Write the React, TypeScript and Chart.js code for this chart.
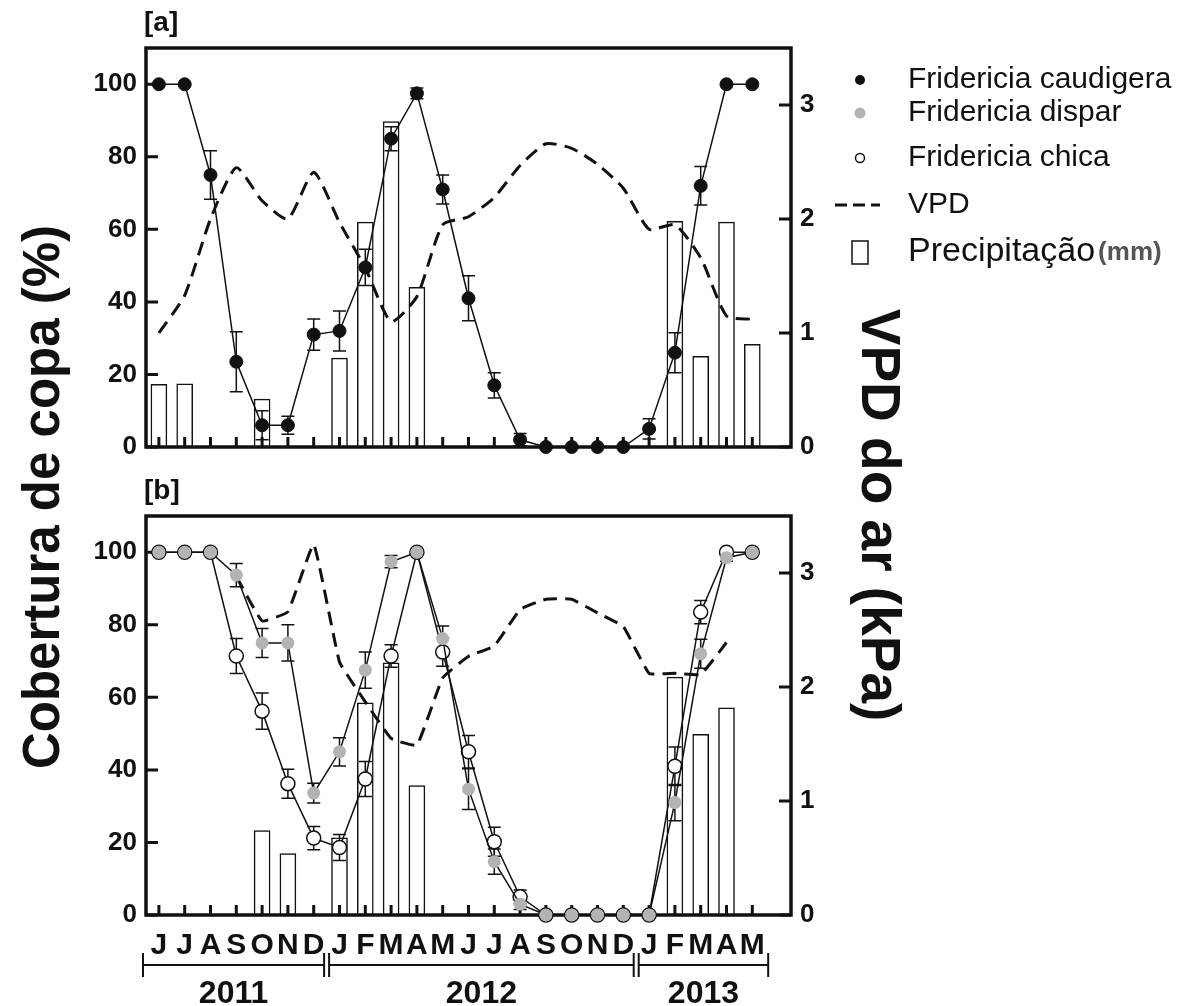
import { useEffect, useRef } from 'react';
import { Chart, registerables } from 'chart.js';

Chart.register(...registerables);

const FONT = '"Liberation Sans", Arial, Helvetica, sans-serif';

// ---- categories ----
const MONTHS = ['J', 'J', 'A', 'S', 'O', 'N', 'D', 'J', 'F', 'M', 'A', 'M', 'J', 'J', 'A', 'S', 'O', 'N', 'D', 'J', 'F', 'M', 'A', 'M'];
const X_LABELS = [...MONTHS, ''];
const YEARS = [
  { label: '2011', from: 0, to: 6 },
  { label: '2012', from: 7, to: 18 },
  { label: '2013', from: 19, to: 23 },
];
const LEFT_TICKS = [0, 20, 40, 60, 80, 100];
const RIGHT_TICKS = [0, 1, 2, 3];

// ---- panel [a] ----
const caudigera = [100, 100, 75, 23.5, 6, 6, 31, 32, 49.5, 85, 97.5, 71, 41, 17, 2, 0, 0, 0, 0, 5, 26, 72, 100, 100];
const caudigeraErr = [0, 0, 6.7, 8.3, 4, 2.5, 4.3, 5.5, 5, 3.3, 1.5, 4, 6.2, 3.5, 1.7, 0, 0, 0, 0, 2.8, 5.5, 5.3, 0, 0];
const vpdA = [1.0, 1.33, 2.0, 2.45, 2.16, 2.0, 2.41, 1.97, 1.57, 1.1, 1.32, 1.95, 2.02, 2.19, 2.47, 2.66, 2.62, 2.48, 2.27, 1.91, 1.95, 1.66, 1.15, 1.12];
const rainA = [17.3, 17.4, null, null, 13.2, null, null, 24.5, 62, 89.7, 44, null, null, null, null, null, null, null, null, null, 62.2, 25, 62, 28.3];

// ---- panel [b] ----
const dispar = [100, 100, 100, 93.7, 75, 75, 33.6, 45, 67.5, 97.4, 100, 76.2, 34.7, 14.7, 3, 0, 0, 0, 0, 0, 31, 72, 98.5, 100];
const disparErr = [0, 0, 0, 3.2, 4, 5, 2.7, 3.9, 5, 1.7, 0, 3.5, 5.6, 3.5, 1.5, 0, 0, 0, 0, 0, 5, 4, 1, 0];
const chica = [100, 100, 100, 71.4, 56.2, 36.2, 21.2, 18.6, 37.5, 71.4, 100, 72.5, 45, 20.2, 5, 0, 0, 0, 0, 0, 41, 83.5, 100, 100];
const chicaErr = [0, 0, 0, 4.8, 5, 4, 3.2, 3.6, 4.8, 3.1, 0, 3.9, 4.5, 4, 1.9, 0, 0, 0, 0, 0, 5.3, 3.2, 0, 0];
const vpdB = [null, null, null, 2.97, 2.58, 2.66, 3.25, 2.22, 1.87, 1.55, 1.49, 2.08, 2.27, 2.36, 2.68, 2.77, 2.77, 2.65, 2.53, 2.12, 2.12, 2.11, 2.39, null];
const rainB = [null, null, null, null, 23.3, 16.9, null, 21.3, 58.5, 69.5, 35.7, null, null, null, null, null, null, null, null, null, 65.6, 49.8, 57.1, null];

const INK = '#111';
const GREY = '#b3b3b3';

type ErrSet = { data: (number | null)[]; err: number[] };

function scalesFor(isBottom: boolean, xHeight: number) {
  return {
    x: {
      type: 'category',
      labels: X_LABELS,
      offset: true,
      grid: { display: false, drawTicks: false },
      border: { display: false },
      ticks: {
        display: isBottom,
        autoSkip: false,
        maxRotation: 0,
        minRotation: 0,
        padding: 13,
        color: INK,
        font: { family: FONT, size: 30, weight: 'bold' },
      },
      afterFit: (s: any) => { s.height = xHeight; },
    },
    y: {
      type: 'linear',
      position: 'left',
      min: 0,
      max: 110,
      afterBuildTicks: (s: any) => { s.ticks = LEFT_TICKS.map((v) => ({ value: v })); },
      grid: { display: false, drawTicks: false },
      border: { display: false },
      ticks: { color: INK, padding: 9, font: { family: FONT, size: 26, weight: 'bold' } },
      afterFit: (s: any) => { s.width = 146; },
    },
    y2: {
      type: 'linear',
      position: 'right',
      min: 0,
      max: 3.5,
      afterBuildTicks: (s: any) => { s.ticks = RIGHT_TICKS.map((v) => ({ value: v })); },
      grid: { display: false, drawTicks: false },
      border: { display: false },
      ticks: { color: INK, padding: 9, font: { family: FONT, size: 26, weight: 'bold' } },
      afterFit: (s: any) => { s.width = 1186 - 791; },
    },
  };
}

function decorPlugin(errSets: ErrSet[], label: string, extra: (chart: any) => void) {
  return {
    id: 'panelDecor',
    afterDatasetDraw(chart: any, args: any) {
      if (args.meta.type !== 'bar') return;
      const { ctx, chartArea: a, scales } = chart;
      const x = scales.x, y = scales.y, y2 = scales.y2;
      ctx.save();
      ctx.strokeStyle = INK;
      ctx.lineWidth = 3.5;
      ctx.strokeRect(a.left, a.top, a.right - a.left, a.bottom - a.top);
      ctx.lineWidth = 3;
      ctx.beginPath();
      MONTHS.forEach((_, i) => {
        const px = x.getPixelForValue(i);
        ctx.moveTo(px, a.bottom);
        ctx.lineTo(px, a.bottom - 10);
      });
      LEFT_TICKS.forEach((v) => {
        const py = y.getPixelForValue(v);
        ctx.moveTo(a.left, py);
        ctx.lineTo(a.left + 12, py);
      });
      RIGHT_TICKS.forEach((v) => {
        const py = y2.getPixelForValue(v);
        ctx.moveTo(a.right, py);
        ctx.lineTo(a.right - 12, py);
      });
      ctx.stroke();
      ctx.lineWidth = 1.5;
      errSets.forEach((s) => {
        s.data.forEach((v, i) => {
          const e = s.err[i];
          if (v == null || !e) return;
          const px = x.getPixelForValue(i);
          const hi = y.getPixelForValue(Math.min(v + e, 110));
          const lo = y.getPixelForValue(Math.max(v - e, 0));
          ctx.beginPath();
          ctx.moveTo(px, hi); ctx.lineTo(px, lo);
          ctx.moveTo(px - 6.5, hi); ctx.lineTo(px + 6.5, hi);
          ctx.moveTo(px - 6.5, lo); ctx.lineTo(px + 6.5, lo);
          ctx.stroke();
        });
      });
      ctx.restore();
    },
    afterDraw(chart: any) {
      const { ctx, chartArea: a } = chart;
      ctx.save();
      ctx.fillStyle = INK;
      ctx.font = `bold 28px ${FONT}`;
      ctx.textAlign = 'left';
      ctx.textBaseline = 'middle';
      ctx.fillText(label, a.left - 2, a.top - 25);
      ctx.restore();
      extra(chart);
    },
  };
}

function drawTitlesAndLegend(chart: any) {
  const { ctx } = chart;
  ctx.save();
  ctx.fillStyle = INK;
  ctx.textAlign = 'center';
  ctx.textBaseline = 'middle';
  ctx.font = `bold 51px ${FONT}`;
  ctx.save();
  ctx.translate(45, 497);
  ctx.rotate(-Math.PI / 2);
  ctx.fillText('Cobertura de copa (%)', 0, 0);
  ctx.restore();
  ctx.font = `bold 55px ${FONT}`;
  ctx.save();
  ctx.translate(877, 515);
  ctx.rotate(Math.PI / 2);
  ctx.fillText('VPD do ar (kPa)', 0, 0);
  ctx.restore();

  // legend
  const mx = 860;
  const tx = 908;
  ctx.fillStyle = INK;
  ctx.beginPath(); ctx.arc(mx, 80, 5, 0, Math.PI * 2); ctx.fill();
  ctx.fillStyle = GREY;
  ctx.beginPath(); ctx.arc(mx, 113, 5.5, 0, Math.PI * 2); ctx.fill();
  ctx.strokeStyle = INK;
  ctx.lineWidth = 1.5;
  ctx.beginPath(); ctx.arc(mx, 158, 4.5, 0, Math.PI * 2); ctx.stroke();
  ctx.lineWidth = 3;
  ctx.setLineDash([12, 6]);
  ctx.beginPath(); ctx.moveTo(835, 205); ctx.lineTo(880, 205); ctx.stroke();
  ctx.setLineDash([]);
  ctx.lineWidth = 1.5;
  ctx.strokeRect(852, 241, 16, 23);

  ctx.fillStyle = INK;
  ctx.textAlign = 'left';
  ctx.font = `30px ${FONT}`;
  ctx.fillText('Fridericia caudigera', tx, 80);
  ctx.fillText('Fridericia dispar', tx, 113);
  ctx.fillText('Fridericia chica', tx, 158);
  ctx.fillText('VPD', tx, 205);
  ctx.font = `34px ${FONT}`;
  ctx.fillText('Precipitação', tx, 252);
  const w = ctx.measureText('Precipitação').width;
  ctx.font = `bold 26px ${FONT}`;
  ctx.fillStyle = '#555';
  ctx.fillText('(mm)', tx + w + 3, 253);
  ctx.restore();
}

function drawYears(chart: any) {
  const { ctx, scales } = chart;
  const x = scales.x;
  const half = (x.getPixelForValue(1) - x.getPixelForValue(0)) / 2;
  const yb = 495;
  ctx.save();
  ctx.strokeStyle = INK;
  ctx.fillStyle = INK;
  ctx.lineWidth = 2;
  ctx.font = `bold 32px ${FONT}`;
  ctx.textAlign = 'center';
  ctx.textBaseline = 'alphabetic';
  YEARS.forEach((yr, k) => {
    const l = x.getPixelForValue(yr.from) - half + (k === 0 ? -3 : 2.5);
    const r = x.getPixelForValue(yr.to) + half + (k === YEARS.length - 1 ? 3 : -2.5);
    ctx.beginPath();
    ctx.moveTo(l, yb); ctx.lineTo(r, yb);
    ctx.moveTo(l, yb - 12); ctx.lineTo(l, yb + 12);
    ctx.moveTo(r, yb - 12); ctx.lineTo(r, yb + 12);
    ctx.stroke();
    ctx.fillText(yr.label, (l + r) / 2, 533);
  });
  ctx.restore();
}

function lineSeries(label: string, data: (number | null)[], fill: string, border: string, radius: number, bw: number, order: number) {
  return {
    type: 'line',
    label,
    data,
    yAxisID: 'y',
    borderColor: INK,
    borderWidth: 1.5,
    pointRadius: radius,
    pointHoverRadius: radius,
    pointBackgroundColor: fill,
    pointBorderColor: border,
    pointBorderWidth: bw,
    tension: 0,
    clip: false,
    order,
  };
}

function vpdSeries(data: (number | null)[], tension: number) {
  return {
    type: 'line',
    label: 'VPD',
    data,
    yAxisID: 'y2',
    borderColor: INK,
    borderWidth: 3,
    borderDash: [14, 8],
    pointRadius: 0,
    tension,
    order: 5,
  };
}

function rainSeries(data: (number | null)[]) {
  return {
    type: 'bar',
    label: 'Precipitação (mm)',
    data,
    yAxisID: 'y',
    backgroundColor: '#fff',
    borderColor: INK,
    borderWidth: 1.5,
    barThickness: 16,
    order: 10,
  };
}

function baseOptions(isBottom: boolean, xHeight: number, padTop: number) {
  return {
    responsive: false,
    animation: false,
    devicePixelRatio: 1,
    layout: { padding: { top: padTop, left: 0, right: 0, bottom: 0 } },
    plugins: { legend: { display: false }, tooltip: { enabled: false } },
    events: [],
    scales: scalesFor(isBottom, xHeight),
  };
}

export default function App() {
  const refA = useRef<HTMLCanvasElement>(null);
  const refB = useRef<HTMLCanvasElement>(null);

  useEffect(() => {
    const ca = new Chart(refA.current as HTMLCanvasElement, {
      type: 'line',
      data: {
        labels: X_LABELS,
        datasets: [
          lineSeries('Fridericia caudigera', caudigera, INK, INK, 6.5, 1, 1),
          vpdSeries(vpdA, 0.2),
          rainSeries(rainA),
        ] as any,
      },
      options: baseOptions(false, 1006 - 447, 48) as any,
      plugins: [decorPlugin([{ data: caudigera, err: caudigeraErr }], '[a]', drawTitlesAndLegend)],
    });
    const cb = new Chart(refB.current as HTMLCanvasElement, {
      type: 'line',
      data: {
        labels: X_LABELS,
        datasets: [
          lineSeries('Fridericia dispar', dispar, GREY, GREY, 6.5, 0, 2),
          lineSeries('Fridericia chica', chica, '#fff', INK, 7, 1.5, 3),
          vpdSeries(vpdB, 0.1),
          rainSeries(rainB),
        ] as any,
      },
      options: baseOptions(true, 536 - 445, 46) as any,
      plugins: [decorPlugin([{ data: chica, err: chicaErr }, { data: dispar, err: disparErr }], '[b]', drawYears)],
    });
    return () => {
      ca.destroy();
      cb.destroy();
    };
  }, []);

  return (
    <div style={{ position: 'absolute', left: 0, top: 0, width: 1186, height: 1006, background: '#fff', overflow: 'hidden' }}>
      <canvas ref={refA} width={1186} height={1006} style={{ position: 'absolute', left: 0, top: 0, width: 1186, height: 1006 }} />
      <canvas ref={refB} width={1186} height={536} style={{ position: 'absolute', left: 0, top: 470, width: 1186, height: 536 }} />
    </div>
  );
}
